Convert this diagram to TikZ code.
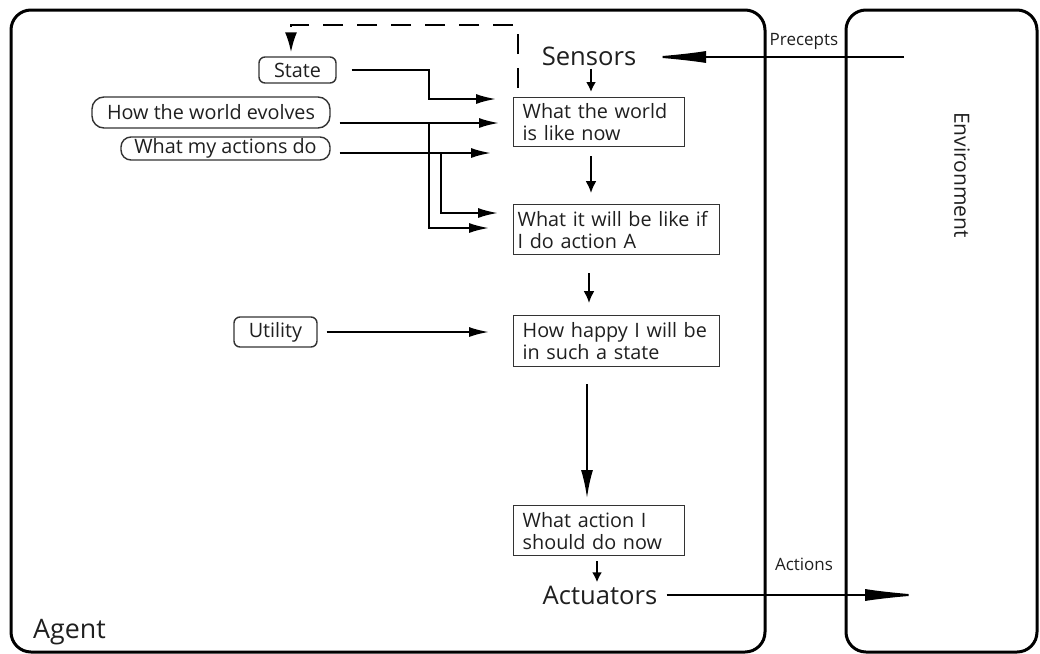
\documentclass[tikz,border=0pt]{standalone}
\usepackage{fontspec}
\setmainfont{Open Sans}
\usetikzlibrary{arrows.meta}
\begin{document}
\begin{tikzpicture}[x=0.5pt,y=-0.5pt,
  every node/.style={text=black!88},
  frame/.style={draw=black, line width=1.5pt, rounded corners=10pt},
  sqbox/.style={draw=black!80, line width=0.7pt, align=left, inner xsep=4.5pt, inner ysep=2pt,
    font=\fontsize{9.9}{11}\selectfont, anchor=north west},
  rbox/.style={draw=black!80, line width=0.7pt, rounded corners=3pt, inner sep=0pt,
    font=\fontsize{9.9}{11}\selectfont},
  big/.style={font=\fontsize{12.8}{14}\selectfont, inner sep=0pt},
  small/.style={font=\fontsize{8.5}{10}\selectfont, inner sep=0pt},
  conn/.style={draw=black, line width=1pt},
  arrS/.style={conn, -{Latex[length=5pt,width=5pt]}},
  arrV/.style={conn, -{Latex[length=6pt,width=5.5pt]}},
  arrM/.style={conn, -{Latex[length=10pt,width=5pt]}},
  arrL/.style={conn, -{Latex[length=14pt,width=6pt]}},
  arrXL/.style={conn, -{Latex[length=29pt,width=6pt]}},
  dashline/.style={conn, dash pattern=on 10pt off 7pt, -{Latex[length=10pt,width=6pt]}}
]
\useasboundingbox (0,0) rectangle (1040,654);

% frames
\draw[frame] (11,10) rectangle (765,652);
\draw[frame] (846,10) rectangle (1037,652);

% labels
\node[font=\fontsize{13.4}{15}\selectfont, inner sep=0pt] (agent) at (69.5,632) {Agent};
\node[rotate=-90, font=\fontsize{10.5}{12}\selectfont, inner sep=0pt] (env) at (962,175) {Environment};
\node[small] (prec) at (804,41) {Precepts};
\node[small] (actlab) at (804,564) {Actions};

% central chain
\node[big] (sensors) at (589,56) {Sensors};
\node[sqbox, text width=76.5pt, minimum height=24.5pt] (wnow) at (513,97) {What the world\\is like now};
\node[sqbox, inner xsep=2pt, text width=99pt, minimum height=25pt] (wif) at (513,204) {What it will be like if\\I do action A};
\node[sqbox, text width=94pt, minimum height=25.5pt] (happy) at (513,315) {How happy I will be\\in such a state};
\node[sqbox, text width=76.5pt, minimum height=25pt] (act) at (513,505) {What action I\\should do now};
\node[big] (actuators) at (600,595) {Actuators};

% left boxes
\node[rbox, minimum width=38.5pt, minimum height=13pt] (state) at (297.5,70) {State};
\node[rbox, rounded corners=6pt, minimum width=119pt, minimum height=15.5pt] (evolves) at (211,112.5) {How the world evolves};
\node[rbox, rounded corners=5pt, minimum width=104.5pt, minimum height=11.5pt] (myact) at (225.5,148.5) {What my actions do};
\node[rbox, minimum width=41.5pt, minimum height=15pt] (utility) at (275.5,332) {Utility};

% helper coordinates
\coordinate (pin) at (904,57);
\coordinate (aout) at (923,595);
\coordinate (cA) at (591,0);
\coordinate (cB) at (589,0);
\coordinate (cC) at (587,0);
\coordinate (cD) at (597,0);
\coordinate (jS) at (429,0);
\coordinate (jA) at (441,0);
\coordinate (t1) at (496,99);
\coordinate (t2) at (499,123);
\coordinate (t3) at (489,228);
\coordinate (t4) at (491,153);
\coordinate (t5) at (498,213);
\coordinate (t6) at (489,332);
\coordinate (d0) at (518,88);
\coordinate (d1) at (291,25);

% environment <-> agent
\draw[arrXL, shorten >=5.75pt] (pin) -- (pin -| sensors.east);
\draw[arrXL, shorten <=4.5pt] (actuators.east) -- (aout);

% vertical chain
\draw[arrS, shorten <=1.5pt, shorten >=2.5pt] (sensors.south -| cA) -- (wnow.north -| cA);
\draw[arrV, shorten <=4.5pt, shorten >=5.5pt] (wnow.south -| cA) -- (wif.north -| cA);
\draw[arrV, shorten <=9pt, shorten >=6pt] (wif.south -| cB) -- (happy.north -| cB);
\draw[arrL, shorten <=8.5pt, shorten >=3.5pt] (happy.south -| cC) -- (act.north -| cC);
\draw[arrS, shorten <=2.5pt, shorten >=1.5pt] (act.south -| cD) -- (actuators.north -| cD);

% left inputs
\draw[arrM, shorten <=7.5pt] (state.east) -- (state.east -| jS) |- (t1);
\draw[arrM, shorten <=4.5pt] ([yshift=-5.25pt]evolves.east) -- (t2);
\draw[arrM] (jS |- t2) |- (t3);
\draw[arrM, shorten <=4.5pt] ([yshift=-2.25pt]myact.east) -- (t4);
\draw[arrM] (jA |- t4) |- (t5);
\draw[arrM, shorten <=4.5pt] (utility.east) -- (t6);

% dashed feedback
\draw[dashline, shorten >=2pt] (d0) |- (d1) -- (d1 |- state.north);
\end{tikzpicture}
\end{document}
